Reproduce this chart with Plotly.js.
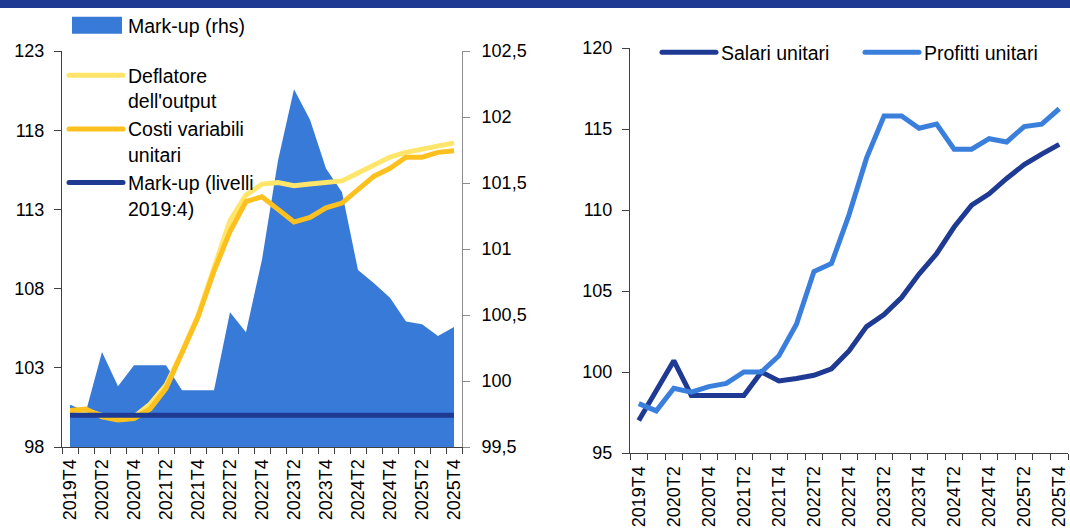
<!DOCTYPE html>
<html><head><meta charset="utf-8">
<script src="https://cdn.plot.ly/plotly-3.0.1.min.js"></script>
<style>html,body{margin:0;padding:0;background:#fff}#chart{width:1070px;height:529px}</style>
</head><body><div id="chart"></div>
<script>
const quarters = ['2019T4','2020T1','2020T2','2020T3','2020T4','2021T1','2021T2','2021T3','2021T4',
  '2022T1','2022T2','2022T3','2022T4','2023T1','2023T2','2023T3','2023T4','2024T1','2024T2','2024T3',
  '2024T4','2025T1','2025T2','2025T3','2025T4'];
const tickLabels = quarters.map((q, i) => (i % 2 === 0 ? q : ''));

// Left panel (left axis)
const deflatore = [100.3,100.3,100.0,99.8,99.9,100.7,101.9,104.0,106.3,109.2,112.3,113.9,114.6,114.7,114.5,114.6,114.7,114.8,115.3,115.8,116.3,116.6,116.8,117.0,117.2];
const costiVariabili = [100.3,100.4,99.9,99.7,99.8,100.4,101.7,103.9,106.2,109.1,111.6,113.5,113.8,113.0,112.2,112.5,113.1,113.4,114.3,115.1,115.6,116.3,116.3,116.6,116.7];
const markupLivelli = [100,100,100,100,100,100,100,100,100,100,100,100,100,100,100,100,100,100,100,100,100,100,100,100,100];
// Left panel (right axis)
const markupRhs = [99.82,99.77,100.22,99.96,100.12,100.12,100.12,99.93,99.93,99.93,100.52,100.37,100.92,101.67,102.21,101.98,101.61,101.43,100.84,100.74,100.63,100.45,100.43,100.34,100.41];
// Right panel
const salari = [97.0,98.8,100.7,98.55,98.55,98.6,98.55,100.0,99.45,99.6,99.8,100.2,101.3,102.8,103.55,104.6,106.05,107.3,108.95,110.3,111.0,111.95,112.8,113.45,114.05];
const profitti = [98.05,97.6,99.0,98.75,99.1,99.3,100.0,100.0,101.0,102.95,106.2,106.7,109.7,113.2,115.8,115.8,115.05,115.3,113.75,113.75,114.4,114.2,115.15,115.3,116.25];

const W = 1070, H = 529;
const px = v => v / W;
const py = v => 1 - v / H;
const FONT = 'Liberation Sans, Arial, sans-serif';
const NAVY = '#1f3a93';
const AREA = '#377ad8';

const traces = [
  {x: quarters, y: markupRhs, name: 'Mark-up (rhs)', type: 'scatter', mode: 'none', fill: 'tozeroy',
   fillcolor: AREA, xaxis: 'x', yaxis: 'y', legend: 'legend', hoverinfo: 'skip'},
  {x: quarters, y: deflatore, name: 'Deflatore<br>dell\'output', type: 'scatter', mode: 'lines',
   line: {color: '#ffe66a', width: 5}, xaxis: 'x', yaxis: 'y2', legend: 'legend2'},
  {x: quarters, y: costiVariabili, name: 'Costi variabili<br>unitari', type: 'scatter', mode: 'lines',
   line: {color: '#fdc11f', width: 5}, xaxis: 'x', yaxis: 'y2', legend: 'legend2'},
  {x: quarters, y: markupLivelli, name: 'Mark-up (livelli<br>2019:4)', type: 'scatter', mode: 'lines',
   line: {color: NAVY, width: 5}, xaxis: 'x', yaxis: 'y2', legend: 'legend2'},
  {x: quarters, y: salari, name: 'Salari unitari', type: 'scatter', mode: 'lines',
   line: {color: NAVY, width: 5}, xaxis: 'x2', yaxis: 'y3', legend: 'legend3'},
  {x: quarters, y: profitti, name: 'Profitti unitari', type: 'scatter', mode: 'lines',
   line: {color: '#3a7fdc', width: 5}, xaxis: 'x2', yaxis: 'y3', legend: 'legend4'}
];

const xCommon = {
  type: 'category', tickmode: 'array', tickvals: quarters, ticktext: tickLabels,
  tickson: 'boundaries', ticks: 'outside', ticklen: 6, tickcolor: '#404040',
  showline: true, linecolor: '#404040', linewidth: 1, tickangle: -90,
  tickfont: {family: FONT, size: 18, color: '#000'}, showgrid: false, zeroline: false,
  range: [-0.5, 24.5], automargin: false, fixedrange: true
};
const yCommon = {
  ticks: 'outside', ticklen: 7, tickcolor: '#404040', showline: true, linecolor: '#404040',
  linewidth: 1, tickfont: {family: FONT, size: 18, color: '#000'}, showgrid: false,
  zeroline: false, automargin: false, fixedrange: true
};
const legFont = {family: FONT, size: 19.5, color: '#000'};
const legBase = {xanchor: 'left', yanchor: 'top', bgcolor: 'rgba(0,0,0,0)', font: legFont,
  itemwidth: 54, valign: 'top', borderwidth: 0};

const layout = {
  width: W, height: H, autosize: false, margin: {l: 0, r: 0, t: 0, b: 0, autoexpand: false},
  paper_bgcolor: '#fff', plot_bgcolor: 'rgba(0,0,0,0)',
  separators: ', ', showlegend: true, hovermode: false,
  font: {family: FONT, size: 18, color: '#000'},
  xaxis: Object.assign({}, xCommon, {domain: [px(62), px(462)], anchor: 'y', ticklabelstandoff: 4}),
  // base axis: right-hand scale for the mark-up area (drawn underneath)
  yaxis: Object.assign({}, yCommon, {domain: [py(447), py(51)], anchor: 'x', side: 'right',
    range: [99.5, 102.5], tickmode: 'linear', tick0: 99.5, dtick: 0.5,
    linecolor: '#8c8c8c', tickcolor: '#8c8c8c', ticklabelstandoff: 8}),
  // overlay axis: left-hand scale for the lines (drawn on top)
  yaxis2: Object.assign({}, yCommon, {overlaying: 'y', side: 'left', anchor: 'x', range: [98, 123],
    tickmode: 'linear', tick0: 98, dtick: 5, ticklabelstandoff: 6}),
  xaxis2: Object.assign({}, xCommon, {domain: [px(630), px(1068)], anchor: 'y3', ticklabelstandoff: 5}),
  yaxis3: Object.assign({}, yCommon, {domain: [py(453), py(48)], anchor: 'x2', range: [95, 120],
    tickmode: 'linear', tick0: 95, dtick: 5, ticklabelstandoff: 6}),
  legend: Object.assign({}, legBase, {x: px(64), y: py(6)}),
  legend2: Object.assign({}, legBase, {x: px(64), y: py(56)}),
  legend3: Object.assign({}, legBase, {x: px(657), y: py(33)}),
  legend4: Object.assign({}, legBase, {x: px(860), y: py(33)}),
  shapes: [
    {type: 'rect', xref: 'paper', yref: 'paper', x0: 0, x1: 1, y0: py(8), y1: 1,
     fillcolor: NAVY, line: {width: 0}, layer: 'above'}
  ]
};

Plotly.newPlot('chart', traces, layout, {displayModeBar: false, staticPlot: true}).then(gd => {
  // make the area legend swatch a full-height block like the reference
  gd.querySelectorAll('.legendfill path').forEach(p => {
    p.setAttribute('d', 'M8,-8.5h50v17h-50z');
  });
  gd.querySelectorAll('.legendlines path').forEach(p => {
    p.style.strokeLinecap = 'round';
  });
});
</script>
</body></html>
